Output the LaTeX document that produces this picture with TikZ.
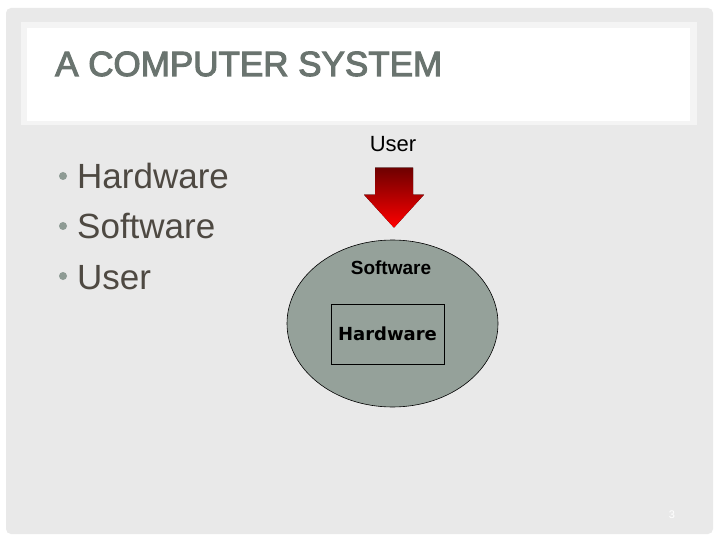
\documentclass[tikz,border=0pt]{standalone}
\usepackage{fontspec}
\setmainfont{Liberation Sans}
\newfontfamily\boxfont{DejaVu Sans}
\newfontfamily\titlefont[FakeBold=3]{Liberation Sans}
\usepackage{xcolor}
\definecolor{cFrame}{HTML}{E9E9E9}
\definecolor{cTitleRim}{HTML}{F4F4F4}
\definecolor{cTitle}{HTML}{6A746F}
\definecolor{cText}{HTML}{4E4942}
\definecolor{cBullet}{HTML}{8E9B94}
\definecolor{cOval}{HTML}{95A19A}
\definecolor{cArrowTop}{HTML}{6E0000}
\definecolor{cArrowLow}{HTML}{FF0000}
\usepackage{tikz}
\usetikzlibrary{positioning,calc,shapes.geometric}
\tikzset{
  txt-title/.style={anchor=base west,inner sep=0pt,text=cTitle,
    font=\titlefont\fontsize{35}{42}\selectfont},
  txt-item/.style={anchor=base west,inner sep=0pt,text=cText,
    font=\fontsize{35}{40}\selectfont},
  dot-item/.style={circle,fill=cBullet,inner sep=0pt,minimum size=8pt},
  node-user/.style={anchor=base,inner sep=0pt,text=black,
    font=\fontsize{22}{26}\selectfont},
  node-oval/.style={ellipse,draw=black,line width=0.6pt,fill=cOval,
    minimum width=211pt,minimum height=167pt,inner sep=0pt},
  node-hw/.style={draw=black,line width=0.6pt,fill=cOval,
    minimum width=113pt,minimum height=60pt,inner sep=0pt,
    font=\boxfont\bfseries\fontsize{18}{21}\selectfont},
  arrow-block/.style={top color=cArrowTop,middle color=cArrowLow,
    bottom color=cArrowLow,draw=none},
}

\begin{document}
\begin{tikzpicture}[x=1pt,y=-1pt]
  \useasboundingbox (0,0) rectangle (720,540);
  % slide frame and title box
  \fill[white] (0,0) rectangle (720,540);
  \fill[cFrame,rounded corners=5pt] (6,8) rectangle (713,534);
  \fill[cTitleRim] (21,22) rectangle (697,125);
  \fill[white] (27,28) rectangle (690,121);
  \node[txt-title] (title) at (55,76) {A COMPUTER SYSTEM};

  % bullet list
  \foreach \name/\y in {Hardware/189, Software/239, User/289} {
    \node[dot-item] (dot\name) at (63,\y-13) {};
    \node[txt-item] (item\name) at (77,\y) {\name};
  }

  % layered picture
  \node[node-user] (user) at (393,152) {User};
  \node[node-oval] (oval) at (392.5,323.5) {};
  \node[anchor=base,inner sep=0pt,font=\bfseries\fontsize{19}{22}\selectfont]
    (soft) at (391,274) {Software};
  \node[node-hw] (hw) at (387.5,334) {Hardware};

  % red block arrow from user down to the oval
  \coordinate (tip) at ($(oval.north)+(1.5,-12)$);
  \fill[arrow-block] ($(tip)+(-19,-60)$) -- ($(tip)+(19,-60)$)
    -- ($(tip)+(19,-33)$) -- ($(tip)+(30,-33)$) -- (tip)
    -- ($(tip)+(-30,-33)$) -- ($(tip)+(-19,-33)$) -- cycle;

  \node[text=white,font=\fontsize{11}{13}\selectfont] (page) at (672,515) {3};
\end{tikzpicture}
\end{document}
